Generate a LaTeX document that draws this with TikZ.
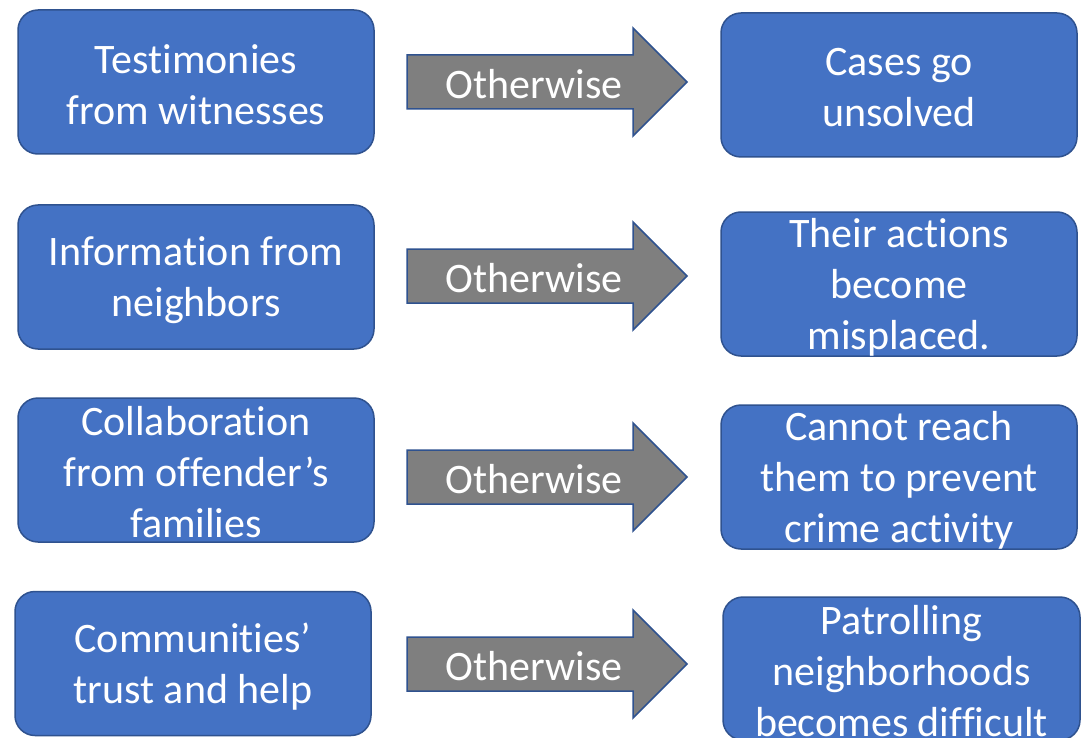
\documentclass[tikz,border=0pt]{standalone}
\usepackage{fontspec}
\setmainfont{Carlito}[Ligatures={NoCommon}]
\definecolor{boxfill}{HTML}{4472C4}
\definecolor{boxline}{HTML}{2F528F}
\definecolor{arrowfill}{HTML}{7F7F7F}
\tikzset{
  infobox/.style={draw=boxline, line width=1.5pt, fill=boxfill, rounded corners=20pt,
    minimum width=356pt, minimum height=144pt, inner sep=0pt},
  boxtext/.style={text=white, font=\fontsize{42}{51}\selectfont, align=center, inner sep=0pt},
  arrowbody/.style={draw=boxline, line width=1.5pt, fill=arrowfill, line join=miter},
  arrowtext/.style={text=white, font=\fontsize{42}{51}\selectfont, inner sep=0pt},
  otherarrow/.pic={
    \draw[arrowbody] (-140,-27) -- (86,-27) -- (86,-54) -- (140,0) -- (86,54) -- (86,27) -- (-140,27) -- cycle;
    \node[arrowtext] (-t) at (-13,2) {Otherwise};
  }
}
\begin{document}
\begin{tikzpicture}[x=1pt,y=-1pt]
\useasboundingbox (0,0) rectangle (1089,738);
\fill[white] (0,0) rectangle (1089,738);

\node[infobox] (l1) at (196,82) {};
\node[infobox] (l2) at (196,277) {};
\node[infobox] (l3) at (196,470) {};
\node[infobox] (l4) at (193,663.5) {};
\node[infobox] (r1) at (899,85) {};
\node[infobox] (r2) at (899,284) {};
\node[infobox] (r3) at (899,477) {};
\node[infobox, minimum width=357pt, minimum height=143pt] (r4) at (901.5,668.5) {};

\node[boxtext] (l1t) at ([yshift=-3pt]l1.center) {Testimonies\\from witnesses};
\node[boxtext] (l2t) at ([yshift=-3pt]l2.center) {Information from\\neighbors};
\node[boxtext] (l3t) at ([yshift=-2pt]l3.center) {Collaboration\\from offender’s\\families};
\node[boxtext] (l4t) at ([yshift=-3pt]l4.center) {Communities’\\trust and help};
\node[boxtext] (r1t) at ([yshift=-3pt]r1.center) {Cases go\\unsolved};
\node[boxtext] (r2t) at ([yshift=-3pt]r2.center) {Their actions\\become\\misplaced.};
\node[boxtext] (r3t) at ([yshift=-3pt]r3.center) {Cannot reach\\them to prevent\\crime activity};
\node[boxtext] (r4t) at ([yshift=-3pt]r4.center) {Patrolling\\neighborhoods\\becomes difficult};

\pic (a1) at (547,82) {otherarrow};
\pic (a2) at (547,276) {otherarrow};
\pic (a3) at (547,477) {otherarrow};
\pic (a4) at (547,664) {otherarrow};
\end{tikzpicture}
\end{document}
